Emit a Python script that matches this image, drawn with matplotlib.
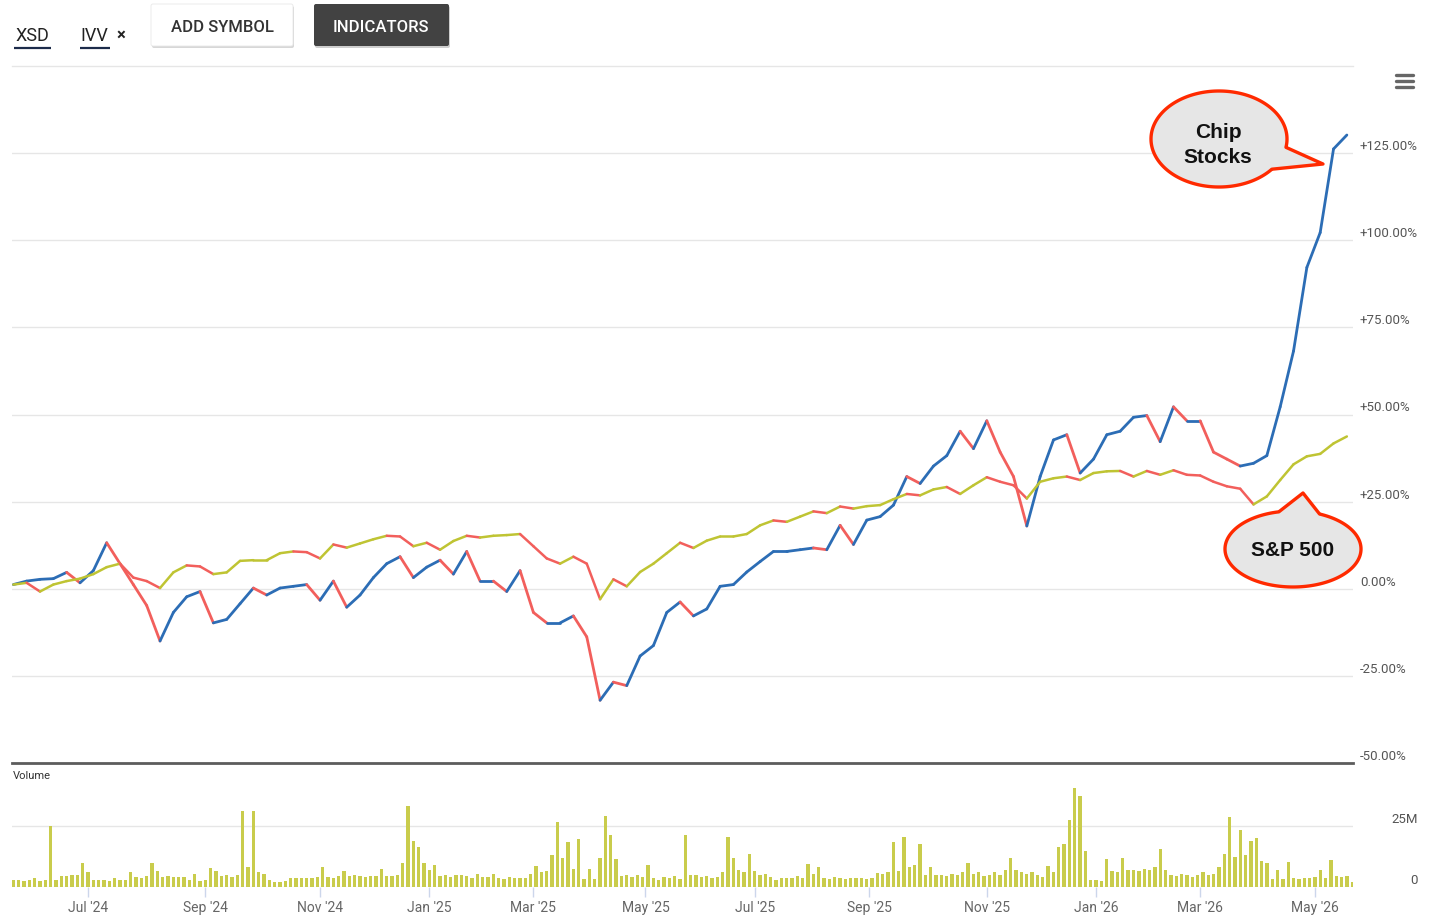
import numpy as np
import pandas as pd
import matplotlib
matplotlib.use("Agg")
import matplotlib.pyplot as plt
import matplotlib.transforms as mtransforms
from matplotlib.collections import LineCollection
from matplotlib.patches import Polygon, FancyBboxPatch

plt.rcParams["font.family"] = ["Roboto", "DejaVu Sans"]

# ---------------- data ----------------
START = "2024-05-20"
N_DAYS = 510
NYSE_HOLIDAYS = ["2024-05-27", "2024-06-19", "2024-07-04", "2024-09-02", "2024-11-28",
                 "2024-12-25", "2025-01-01", "2025-01-09", "2025-01-20", "2025-02-17",
                 "2025-04-18", "2025-05-26", "2025-06-19", "2025-07-04", "2025-09-01",
                 "2025-11-27", "2025-12-25", "2026-01-01", "2026-01-19", "2026-02-16",
                 "2026-04-03", "2026-05-25"]

PRICE_STEP = 5   # one reading every 5 trading days
VOL_STEP = 2     # one reading every 2 trading days

# XSD (chip stocks) % change, weekly readings
xsd_pct = [
    1.2, 2.2, 2.7, 2.9, 4.7, 1.7, 5.2, 13.2, 7.2, 1.2,
    -4.8, -15.0, -6.8, -2.3, -0.8, -9.8, -8.8, -4.3, 0.2, -1.8,
    0.2, 0.7, 1.2, -3.3, 2.2, -5.3, -1.8, 3.2, 7.2, 9.2,
    3.2, 6.2, 8.2, 4.2, 10.7, 2.2, 2.2, -0.8, 5.2, -6.8,
    -9.8, -9.8, -7.8, -13.8, -32.0, -26.8, -27.8, -19.3, -16.3, -6.8,
    -3.8, -7.8, -5.8, 0.7, 1.2, 4.8, 7.8, 10.7, 10.7, 11.2,
    11.7, 11.2, 18.2, 12.7, 19.7, 20.7, 24.0, 32.2, 30.2, 35.2,
    38.2, 45.2, 40.2, 48.2, 39.2, 32.2, 18.0, 32.2, 42.7, 44.2,
    33.2, 37.2, 44.2, 45.2, 49.2, 49.7, 42.2, 52.2, 48.2, 48.2,
    39.2, 37.2, 35.2, 36.0, 38.2, 52.2, 68.2, 92.2, 102.2, 126.2,
    130.2,
]

# IVV (S&P 500) % change, weekly readings
ivv_pct = [
    1.2, 1.7, -0.8, 1.2, 2.2, 2.9, 4.2, 6.2, 7.2, 3.2,
    2.2, 0.2, 4.7, 6.7, 6.4, 4.2, 4.7, 8.0, 8.2, 8.2,
    10.2, 10.7, 10.5, 8.7, 12.7, 11.8, 13.0, 14.2, 15.2, 15.0,
    12.2, 13.2, 11.2, 13.7, 15.2, 14.7, 15.2, 15.4, 15.7, 12.2,
    8.7, 7.2, 9.2, 7.2, -3.0, 2.7, 0.7, 4.8, 7.2, 10.2,
    13.2, 11.7, 13.8, 15.0, 15.0, 15.7, 18.2, 19.6, 19.2, 20.7,
    22.2, 21.7, 23.6, 23.0, 23.7, 24.0, 25.7, 27.2, 26.8, 28.5,
    29.2, 27.2, 29.7, 32.0, 30.7, 29.7, 25.9, 30.7, 31.7, 32.2,
    31.2, 33.2, 33.7, 33.8, 32.2, 33.8, 32.7, 34.0, 32.7, 32.5,
    30.7, 29.4, 28.7, 24.2, 26.5, 31.2, 35.7, 38.0, 38.7, 41.7,
    43.7,
]

# Volume (millions), readings every 2 trading days
vol_m = [
    3, 3, 2.5, 3, 3.5, 2.5, 3, 25, 3, 4.5,
    4.5, 5, 5, 10, 6, 3, 3, 3, 2.5, 3.5,
    3, 3, 6, 4, 3.5, 4.5, 10, 6.5, 4, 4.5,
    4, 4, 4, 3, 5.5, 2.5, 3, 7.8, 6.5, 4.5,
    5, 4, 5, 31, 8, 31, 6, 5.5, 3, 2.2,
    2, 2.5, 3.5, 3.8, 3.5, 3.8, 3.5, 4, 8, 4,
    3.8, 4.5, 6.4, 4.5, 5, 4.5, 4, 4.6, 4.5, 7.4,
    4.5, 4.6, 5, 10, 33, 19, 16.5, 10, 6.8, 9,
    4.5, 5, 4.2, 4.8, 5, 4.5, 3.8, 5.2, 4, 4,
    5.3, 3.5, 3.2, 4, 3.5, 3.8, 3.5, 5.5, 8.5, 6,
    6.5, 13, 26.8, 11.7, 18.3, 7.4, 19.7, 3.3, 7.4, 3.3,
    11.9, 29.2, 21.3, 11.5, 4.6, 5, 4.2, 4.8, 4, 9,
    3.5, 3, 4, 3.5, 4.5, 3.2, 21.3, 5, 4.8, 4,
    4.5, 3.5, 4, 6, 20.4, 11.7, 7, 6, 13.4, 6.5,
    5, 5.5, 4, 3, 3.5, 3.8, 3.5, 4.5, 3.5, 9.4,
    5.3, 8, 3.5, 3.2, 4, 3.5, 3.3, 3.8, 3.5, 3.5,
    3.3, 3.5, 5.7, 5.3, 6, 18.3, 6.7, 20.4, 8, 9,
    17.8, 5, 8.3, 5, 5, 4.6, 5.5, 5, 6, 9.8,
    5.5, 6, 4.5, 5, 6, 5, 7, 12, 7, 6,
    5.5, 6, 5, 4, 8.7, 6, 16.3, 17.6, 27.5, 40.6,
    37.2, 14.9, 3, 3, 2.5, 11.5, 6.5, 6, 11.7, 7,
    7, 6.5, 7.5, 7, 8, 15.6, 7, 5, 4.5, 5.5,
    5, 4.2, 5, 6, 5, 5.5, 8, 13.5, 28.5, 12.2,
    23.4, 13, 18.7, 20, 10.5, 10, 3.3, 7, 3.3, 10.4,
    3.5, 3.3, 3.8, 3.5, 4, 7, 3.5, 11.2, 4.5, 4,
    4.6, 2,
]

price_ticks = [-50, -25, 0, 25, 50, 75, 100, 125]
vol_ticks = [0, 25]
vol_tick_labels = ["0", "25M"]
month_ticks = ["2024-07-01", "2024-09-01", "2024-11-01", "2025-01-01", "2025-03-01",
               "2025-05-01", "2025-07-01", "2025-09-01", "2025-11-01", "2026-01-01",
               "2026-03-01", "2026-05-01"]

# ---------------- colors ----------------
XSD_UP = "#2c6db5"
DOWN = "#f25f5c"
IVV_UP = "#bfc433"
VOL_C = "#c9cc4c"
GRID = "#e6e6e6"

W, H = 1430, 920
fig = plt.figure(figsize=(W / 100, H / 100), dpi=100)
fig.patch.set_facecolor("white")


def rect(x0, y0, x1, y1):
    return [x0 / W, 1 - y1 / H, (x1 - x0) / W, (y1 - y0) / H]


days = pd.bdate_range(START, periods=N_DAYS, freq="C", holidays=NYSE_HOLIDAYS)
tick_idx = [int(days.searchsorted(pd.Timestamp(d))) for d in month_ticks]
tick_lbl = [pd.Timestamp(d).strftime("%b '%y") for d in month_ticks]

XLIM = (-0.5, 502.3)

# ---------------- price panel ----------------
ax = fig.add_axes(rect(12, 67, 1353, 764))
ax.set_xlim(*XLIM)
ax.set_ylim(-50, 150)
ax.set_yticks(price_ticks)
ax.yaxis.grid(True, color=GRID, lw=1, zorder=0)
ax.set_axisbelow(True)
ax.tick_params(left=False, right=False, bottom=False, top=False,
               labelleft=False, labelbottom=False)
for s in ["left", "right"]:
    ax.spines[s].set_visible(False)
ax.spines["top"].set_color(GRID)
ax.spines["top"].set_linewidth(1)
ax.spines["bottom"].set_color("#5c5c5c")
ax.spines["bottom"].set_linewidth(2)

tr = mtransforms.blended_transform_factory(ax.transAxes, ax.transData)
tr_lbl = mtransforms.offset_copy(tr, fig=fig, x=7, y=7.5, units="dots")
for v in price_ticks:
    lab = ("+" if v > 0 else "") + f"{v:.2f}%"
    ax.text(1.0, v, lab, transform=tr_lbl, ha="left", va="center",
            fontsize=9.5, color="#555555", clip_on=False)


def colored_line(axis, x, y, up_c, dn_c, lw, z):
    x = np.asarray(x, float)
    y = np.asarray(y, float)
    pts = np.column_stack([x, y])
    segs = np.stack([pts[:-1], pts[1:]], axis=1)
    cols = [up_c if b >= a else dn_c for a, b in zip(y[:-1], y[1:])]
    lc = LineCollection(segs, colors=cols, linewidths=lw, zorder=z,
                        capstyle="round", joinstyle="round")
    axis.add_collection(lc)


xp = np.arange(len(xsd_pct)) * PRICE_STEP
colored_line(ax, xp, xsd_pct, XSD_UP, DOWN, 2.0, 3)
colored_line(ax, np.arange(len(ivv_pct)) * PRICE_STEP, ivv_pct, IVV_UP, DOWN, 1.8, 4)

# ---------------- volume panel ----------------
axv = fig.add_axes(rect(12, 764, 1353, 888))
axv.set_xlim(*XLIM)
axv.set_ylim(0, 50.8)
axv.patch.set_alpha(0)
xv = np.arange(len(vol_m)) * VOL_STEP
axv.bar(xv, vol_m, width=1.25, color=VOL_C, lw=0, zorder=2)
axv.set_yticks(vol_ticks)
axv.yaxis.grid(True, color=GRID, lw=1, zorder=0)
axv.set_axisbelow(True)
for s in axv.spines.values():
    s.set_visible(False)
axv.tick_params(axis="y", left=False, right=False, labelleft=False)
axv.set_xticks(tick_idx)
axv.set_xticklabels(tick_lbl)
axv.tick_params(axis="x", length=7.5, width=1, color="#ccd6eb", pad=2,
                labelsize=10, labelcolor="#666666")
trv = mtransforms.blended_transform_factory(axv.transAxes, axv.transData)
trv_lbl = mtransforms.offset_copy(trv, fig=fig, x=65, y=7.5, units="dots")
for v, lab in zip(vol_ticks, vol_tick_labels):
    axv.text(1.0, v, lab, transform=trv_lbl, ha="right", va="center",
             fontsize=9.5, color="#555555", clip_on=False)

# ---------------- overlay (pixel coords) ----------------
ov = fig.add_axes([0, 0, 1, 1], zorder=10)
ov.set_xlim(0, W)
ov.set_ylim(H, 0)
ov.axis("off")

ov.text(13, 776, "Volume", fontsize=8, color="#333333", ha="left", va="center")

# header
ov.text(15, 36, "XSD", fontsize=13, color="#222222", ha="left", va="center")
ov.plot([14, 51], [49, 49], color="#1c2b4a", lw=1.6, solid_capstyle="butt")
ov.text(80, 36, "IVV", fontsize=13, color="#222222", ha="left", va="center")
ov.plot([80, 110], [49, 49], color="#1c2b4a", lw=1.6, solid_capstyle="butt")
ov.text(121, 35, "\u00d7", fontsize=12, color="#222222", ha="center", va="center",
        fontweight="bold")

ov.add_patch(FancyBboxPatch((152, 7), 142, 42, boxstyle="round,pad=0,rounding_size=2",
                            fc="#bdbdbd", ec="none", alpha=0.6))
ov.add_patch(FancyBboxPatch((151, 5), 142, 42, boxstyle="round,pad=0,rounding_size=2",
                            fc="white", ec="#e8e8e8", lw=0.6))
ov.text(222, 27, "ADD SYMBOL", fontsize=12, color="#333333", ha="center", va="center",
        fontweight="medium")
ov.add_patch(FancyBboxPatch((315, 7), 135, 42, boxstyle="round,pad=0,rounding_size=2",
                            fc="#9e9e9e", ec="none", alpha=0.5))
ov.add_patch(FancyBboxPatch((314, 5), 135, 42, boxstyle="round,pad=0,rounding_size=2",
                            fc="#424242", ec="none"))
ov.text(381, 27, "INDICATORS", fontsize=12, color="white", ha="center", va="center",
        fontweight="medium")

# hamburger menu
for yy in (75.5, 81.5, 87.5):
    ov.plot([1396, 1413], [yy, yy], color="#666666", lw=2.4, solid_capstyle="round")


def callout(cx, cy, a, b, t1, t2, tip, text, tx, ty):
    t = np.radians(np.linspace(t2, t1 + 360, 240))
    pts = np.column_stack([cx + a * np.cos(t), cy + b * np.sin(t)])
    pts = np.vstack([pts, [tip]])
    ov.add_patch(Polygon(pts, closed=True, fc="#e6e6e6", ec="#ff2a00", lw=2.4,
                         joinstyle="round", zorder=11))
    ov.text(tx, ty, text, family=["Liberation Sans", "DejaVu Sans"],
            fontsize=15, fontweight="bold", color="#111111", ha="center",
            va="center", linespacing=1.35, zorder=12)


callout(1219, 140, 68, 48, 10, 39, (1323, 165), "Chip\nStocks", 1218, 145)
callout(1293, 550, 68, 38, -102, -67, (1303, 494), "S&P 500", 1293, 551)

fig.savefig("out.png", dpi=100, facecolor="white")
